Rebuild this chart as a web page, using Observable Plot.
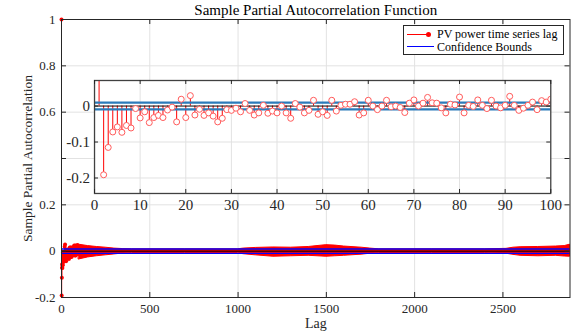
<!DOCTYPE html>
<html><head><meta charset="utf-8">
<script src="https://cdn.jsdelivr.net/npm/d3@7"></script>
<script src="https://cdn.jsdelivr.net/npm/@observablehq/plot@0.6"></script>
<style>
body{margin:0;background:#fff;}
#wrap{position:relative;width:573px;height:333px;font-family:"Liberation Serif","Times New Roman",serif;overflow:hidden;}
#wrap svg{position:absolute;overflow:visible;max-width:none;font-family:"Liberation Serif","Times New Roman",serif !important;}
#wrap svg text{font-family:"Liberation Serif","Times New Roman",serif !important;}
.legend{position:absolute;left:403px;top:25px;width:159px;height:28px;border:1px solid #262626;background:#fff;font-size:12px;color:#000;}
.legend .ln{position:absolute;height:0;}
.legend .tx{position:absolute;left:33px;line-height:12px;white-space:nowrap;}
.legend .dt{position:absolute;width:5px;height:5px;border-radius:50%;background:#f00;}
</style>
</head><body>
<div id="wrap">
  <div class="legend">
    <div class="ln" style="left:3px;top:8px;width:21px;border-top:1px solid #f00;"></div>
    <div class="dt" style="left:21.5px;top:6px;"></div>
    <div class="tx" style="top:2px;">PV power time series lag</div>
    <div class="ln" style="left:3px;top:20px;width:27px;border-top:1.3px solid #00f;"></div>
    <div class="tx" style="top:14.5px;">Confidence Bounds</div>
  </div>
</div>
<script>
// ---- data ----
// sample partial autocorrelation for lags 0..99 (shown in the inset by 1-based index)
const pacf = [
  1, -0.191, -0.115, -0.072, -0.058, -0.073, -0.054, -0.061, -0.007, -0.033,
  -0.016, -0.046, -0.032, -0.026, -0.032, -0.011, -0.003, -0.044, 0.019, -0.032,
  0.029, -0.025, -0.009, -0.026, -0.019, -0.028, -0.044, -0.034, -0.010, -0.012,
  -0.006, -0.016, 0.007, -0.012, -0.025, -0.019, 0.002, -0.020, -0.014, -0.019,
  0.000, -0.019, -0.034, 0.007, -0.003, -0.019, -0.012, 0.016, -0.023, -0.016,
  -0.026, 0.016, -0.014, 0.002, 0.005, 0.005, 0.012, -0.025, -0.019, 0.016,
  0.000, -0.010, 0.000, 0.016, -0.002, 0.000, -0.004, -0.018, 0.008, 0.017,
  0.000, 0.008, 0.024, 0.009, 0.008, -0.005, -0.019, 0.005, 0.003, 0.025,
  -0.019, 0.002, -0.001, 0.017, 0.002, -0.007, 0.016, 0.000, -0.005, 0.002,
  0.027, 0.002, -0.012, -0.006, 0.002, 0.011, -0.010, 0.015, 0.011, 0.019
];
// envelope of the dense PACF values for lags >= 99
const bandLag  = [99, 150, 200, 250, 300, 350, 400, 700, 1000, 1030, 1100, 1200, 1300, 1400, 1450, 1500, 1550, 1600, 1700, 1750, 1800, 2100, 2400, 2520, 2560, 2600, 2700, 2800, 2850, 2880];
const bandHigh = [0.028, 0.022, 0.018, 0.015, 0.011, 0.009, 0.008, 0.008, 0.008, 0.011, 0.014, 0.016, 0.015, 0.018, 0.022, 0.026, 0.024, 0.020, 0.015, 0.011, 0.008, 0.008, 0.008, 0.010, 0.015, 0.017, 0.018, 0.020, 0.022, 0.028];
const bandLow  = [-0.036, -0.027, -0.022, -0.018, -0.014, -0.010, -0.008, -0.008, -0.008, -0.013, -0.018, -0.024, -0.022, -0.020, -0.022, -0.024, -0.022, -0.020, -0.015, -0.011, -0.008, -0.008, -0.008, -0.011, -0.016, -0.020, -0.022, -0.020, -0.023, -0.024];
const confBound = 0.0093;
const maxLag = 2880;
const xTicks = [0, 500, 1000, 1500, 2000, 2500];
const yTicks = [-0.2, 0, 0.2, 0.4, 0.6, 0.8, 1];
const yTickLabels = [-0.2, 0, 0.2, 0.6, 0.8, 1];
const insetXTicks = [0, 10, 20, 30, 40, 50, 60, 70, 80, 90, 100];
const insetYTicks = [-0.2, -0.1, 0];
const titleText = "Sample Partial Autocorrelation Function";
const xLabel = "Lag";
const yLabel = "Sample Partial Autocorrelation";

const rows = pacf.map((v, i) => ({lag: i, idx: i + 1, v}));
const band = bandLag.map((lag, i) => ({lag, high: bandHigh[i], low: bandLow[i]}));
const fmt = d => String(d);
const FF = "Liberation Serif";

// ---- main chart ----
const W = 573, H = 333, mL = 61, mR = 3.5, mT = 19, mB = 36;
const fW = W - mL - mR, fH = H - mT - mB;
const tickCol = "#262626";
const main = Plot.plot({
  width: W, height: H,
  marginLeft: mL, marginRight: mR, marginTop: mT, marginBottom: mB,
  x: {domain: [0, maxLag]},
  y: {domain: [-0.2, 1]},
  style: {fontFamily: FF, fontSize: "13px", background: "transparent", color: tickCol},
  marks: [
    Plot.ruleX(xTicks.filter(d => d > 0), {stroke: "#e2e2e2"}),
    Plot.ruleY(yTicks.filter(d => d > -0.2 && d < 1), {stroke: "#e2e2e2"}),
    Plot.areaY(band, {x: "lag", y1: "low", y2: "high", fill: "#ff0000", stroke: "#ff0000", strokeWidth: 1, curve: "linear"}),
    Plot.ruleX(rows, {x: "lag", y1: 0, y2: "v", stroke: "#ff0000", strokeWidth: 1}),
    Plot.dot(rows, {x: "lag", y: "v", r: 2, fill: "#ff0000", stroke: null}),
    Plot.ruleY([0], {stroke: "#000", strokeWidth: 1}),
    Plot.ruleY([-confBound, confBound], {stroke: "#0000ff", strokeWidth: 1.3}),
    Plot.frame({stroke: tickCol, strokeWidth: 1}),
    Plot.ruleX(xTicks, {stroke: tickCol, insetTop: fH - 5}),
    Plot.ruleX(xTicks, {stroke: tickCol, insetBottom: fH - 5}),
    Plot.ruleY(yTicks, {stroke: tickCol, insetRight: fW - 5}),
    Plot.ruleY(yTicks, {stroke: tickCol, insetLeft: fW - 5}),
    Plot.axisX(xTicks, {anchor: "bottom", tickSize: 0, tickPadding: 6, tickFormat: fmt, label: null, fontFamily: FF, fontSize: 13}),
    Plot.axisY(yTickLabels, {anchor: "left", tickSize: 0, tickPadding: 6, tickFormat: fmt, label: null, fontFamily: FF, fontSize: 13}),
    Plot.text([titleText], {frameAnchor: "top", lineAnchor: "middle", textAnchor: "middle", dy: -9, fontSize: 15, fontFamily: FF, fill: "#000"}),
    Plot.text([xLabel], {frameAnchor: "bottom", lineAnchor: "middle", textAnchor: "middle", dy: 26, fontSize: 14, fontFamily: FF, fill: tickCol}),
    Plot.text([yLabel], {frameAnchor: "left", lineAnchor: "middle", textAnchor: "middle", dx: -34, rotate: -90, fontSize: 13.5, fontFamily: FF, fill: tickCol})
  ]
});
main.style.left = "0px"; main.style.top = "0px";

// ---- inset ----
const iFL = 93.7, iFR = 550, iFT = 80, iFB = 193;
const iL = 32, iR = 14, iT = 2, iB = 22;
const iFW = iFR - iFL, iFH = iFB - iFT;
const inset = Plot.plot({
  width: iFW + iL + iR, height: iFH + iT + iB,
  marginLeft: iL, marginRight: iR, marginTop: iT, marginBottom: iB,
  x: {domain: [0, 100]},
  y: {domain: [-0.243, 0.071]},
  style: {fontFamily: FF, fontSize: "15px", background: "transparent", color: tickCol},
  marks: [
    Plot.frame({fill: "#fff", stroke: null}),
    Plot.ruleX(insetXTicks.filter(d => d > 0 && d < 100), {stroke: "#e2e2e2"}),
    Plot.ruleY([-0.2, -0.1], {stroke: "#e2e2e2"}),
    Plot.ruleX(rows, {x: "idx", y1: 0, y2: "v", stroke: "#ff0000", strokeWidth: 1, clip: true}),
    Plot.ruleY([0], {stroke: "#000", strokeWidth: 1}),
    Plot.ruleY([-confBound, confBound], {stroke: "#2b7bba", strokeWidth: 2.3}),
    Plot.dot(rows, {x: "idx", y: "v", r: 3, fill: "#fff", stroke: "#ff5a5a", strokeWidth: 1, clip: true}),
    Plot.frame({stroke: "#404040", strokeWidth: 1.3}),
    Plot.ruleX(insetXTicks, {stroke: tickCol, insetTop: iFH - 4}),
    Plot.ruleX(insetXTicks, {stroke: tickCol, insetBottom: iFH - 4}),
    Plot.ruleY(insetYTicks, {stroke: tickCol, insetRight: iFW - 4}),
    Plot.ruleY(insetYTicks, {stroke: tickCol, insetLeft: iFW - 4}),
    Plot.axisX(insetXTicks, {anchor: "bottom", tickSize: 0, tickPadding: 6, tickFormat: fmt, label: null, fontFamily: FF, fontSize: 15}),
    Plot.axisY(insetYTicks, {anchor: "left", tickSize: 0, tickPadding: 4.5, tickFormat: fmt, label: null, fontFamily: FF, fontSize: 15})
  ]
});
inset.style.left = (iFL - iL) + "px"; inset.style.top = (iFT - iT) + "px";

const wrap = document.getElementById("wrap");
const legend = wrap.querySelector(".legend");
wrap.insertBefore(main, legend);
wrap.insertBefore(inset, legend);
</script>
</body></html>
